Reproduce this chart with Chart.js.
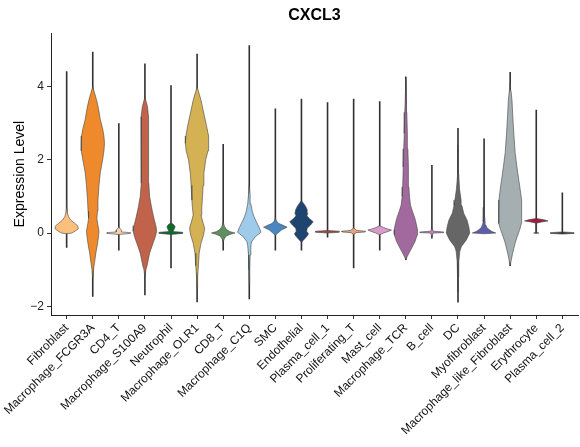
<!DOCTYPE html>
<html>
<head>
<meta charset="utf-8">
<script src="https://cdn.jsdelivr.net/npm/chart.js@4"></script>
<style>html,body{margin:0;padding:0;background:#fff}</style>
</head>
<body>
<canvas id="vln" width="580" height="447"></canvas>
<script>
const categories = ['Fibroblast', 'Macrophage_FCGR3A', 'CD4_T', 'Macrophage_S100A9', 'Neutrophil',
  'Macrophage_OLR1', 'CD8_T', 'Macrophage_C1Q', 'SMC', 'Endothelial', 'Plasma_cell_1',
  'Proliferating_T', 'Mast_cell', 'Macrophage_TCR', 'B_cell', 'DC', 'Myofibroblast',
  'Macrophage_like_Fibroblast', 'Erythrocyte', 'Plasma_cell_2'];
const fillColors = ['#fdbf7c', '#ef8a2c', '#f5cfb3', '#c0634a', '#0e6a2b',
  '#d4b152', '#5f8f60', '#9fcbea', '#4b86c0', '#1f446f', '#9b4a3c',
  '#e8a47c', '#d89bca', '#a2699e', '#c47fba', '#666666', '#5a5ea8',
  '#a5aeb0', '#a01c3c', '#333333'];
// range of the expression values (drawn as the vertical point strip)
const pointMin = [-0.40, -1.74, -0.48, -1.70, -0.96, -1.89, -0.48, -1.81, -0.48, -0.48,
  -0.12, -0.96, -0.48, -0.74, -0.15, -1.90, 0.0, -0.90, 0.0, 0.0];
const pointMax = [4.42, 4.95, 3.00, 4.63, 4.04, 4.90, 2.43, 5.13, 3.40, 3.67,
  3.57, 3.67, 3.60, 4.28, 1.86, 2.87, 2.58, 4.40, 3.37, 1.11];
// violin profiles: [expression level, half width], bottom to top
const profiles = [
  [[-0.02,0],[0.0,0.2],[0.05,0.32],[0.12,0.45],[0.2,0.42],[0.27,0.3],[0.35,0.16],[0.45,0.07],[0.55,0.03],[0.7,0.01],[0.9,0]],
  [[-1.25,0],[-1.0,0.03],[-0.8,0.07],[-0.55,0.12],[-0.3,0.18],[-0.1,0.22],[0.05,0.24],[0.25,0.19],[0.4,0.16],[0.6,0.18],[0.9,0.2],[1.3,0.24],[1.65,0.29],[2.0,0.38],[2.25,0.43],[2.45,0.45],[2.65,0.43],[2.85,0.38],[3.1,0.29],[3.4,0.22],[3.63,0.15],[3.85,0.06],[4.0,0]],
  [[-0.04,0],[-0.01,0.45],[0.01,0.45],[0.03,0.1],[0.08,0.1],[0.16,0]],
  [[-1.2,0],[-1.0,0.04],[-0.9,0.08],[-0.55,0.18],[-0.28,0.31],[-0.1,0.4],[0.05,0.45],[0.2,0.42],[0.36,0.36],[0.55,0.3],[0.72,0.25],[1.0,0.18],[1.36,0.15],[1.8,0.14],[2.26,0.13],[2.7,0.14],[3.17,0.15],[3.45,0.1],[3.72,0]],
  [[-0.04,0],[-0.01,0.45],[0.02,0.45],[0.04,0.08],[0.1,0.12],[0.17,0.16],[0.23,0.1],[0.28,0]],
  [[-1.5,0],[-1.2,0.02],[-0.9,0.05],[-0.55,0.08],[-0.28,0.15],[-0.05,0.25],[0.13,0.29],[0.3,0.22],[0.49,0.15],[0.7,0.18],[0.9,0.2],[1.3,0.23],[1.63,0.26],[2.0,0.33],[2.25,0.42],[2.45,0.45],[2.65,0.43],[2.9,0.37],[3.36,0.23],[3.63,0.15],[3.85,0.06],[4.0,0]],
  [[-0.24,0],[-0.15,0.05],[-0.08,0.12],[-0.03,0.3],[0,0.45],[0.04,0.25],[0.1,0.12],[0.18,0.05],[0.3,0]],
  [[-1.4,0],[-1.0,0.015],[-0.6,0.03],[-0.35,0.06],[-0.24,0.09],[-0.1,0.23],[0.02,0.45],[0.15,0.38],[0.31,0.27],[0.45,0.18],[0.58,0.12],[0.8,0.06],[1.05,0.03],[1.3,0]],
  [[-0.06,0],[0,0.1],[0.08,0.23],[0.16,0.45],[0.21,0.3],[0.26,0.13],[0.32,0.05],[0.4,0]],
  [[-0.25,0],[-0.16,0.12],[-0.08,0.22],[-0.02,0.27],[0.05,0.2],[0.13,0.22],[0.22,0.35],[0.31,0.45],[0.4,0.3],[0.47,0.21],[0.54,0.25],[0.64,0.22],[0.74,0.15],[0.82,0.07],[0.88,0]],
  [[0.0,0],[0.02,0.45],[0.05,0.45],[0.07,0]],
  [[-0.04,0],[0.01,0.1],[0.03,0.45],[0.05,0.45],[0.07,0.12],[0.14,0]],
  [[-0.05,0],[0.0,0.15],[0.05,0.35],[0.08,0.45],[0.11,0.3],[0.15,0.15],[0.2,0]],
  [[-0.74,0],[-0.65,0.05],[-0.55,0.12],[-0.46,0.19],[-0.24,0.35],[-0.05,0.44],[0.08,0.45],[0.25,0.4],[0.4,0.35],[0.6,0.25],[0.76,0.18],[1.0,0.14],[1.26,0.12],[1.81,0.1],[2.3,0.08],[2.72,0.06],[3.3,0.04],[3.9,0.02],[4.2,0]],
  [[-0.08,0],[0.0,0.06],[0.01,0.45],[0.03,0.45],[0.05,0.06],[0.12,0]],
  [[-1.6,0],[-1.2,0.015],[-0.8,0.03],[-0.5,0.07],[-0.37,0.13],[-0.19,0.32],[0.0,0.45],[0.15,0.42],[0.35,0.35],[0.54,0.22],[0.75,0.15],[0.9,0.12],[1.2,0.06],[1.6,0.03],[2.0,0.015],[2.4,0]],
  [[-0.02,0],[0.0,0.45],[0.04,0.3],[0.1,0.18],[0.16,0.1],[0.22,0.07],[0.3,0.04],[0.45,0.025],[0.7,0.01],[0.9,0]],
  [[-0.9,0],[-0.75,0.04],[-0.6,0.08],[-0.42,0.14],[-0.25,0.2],[-0.1,0.27],[0.1,0.37],[0.26,0.43],[0.5,0.45],[0.7,0.44],[0.9,0.43],[1.26,0.37],[1.5,0.32],[1.81,0.26],[2.2,0.19],[2.72,0.14],[3.2,0.1],[3.63,0.07],[3.9,0.03],[4.1,0]],
  [[-0.01,0],[0.0,0.1],[0.015,0.005],[0.27,0.005],[0.3,0.2],[0.33,0.45],[0.36,0.3],[0.4,0]],
  [[-0.03,0],[-0.01,0.45],[0.01,0.45],[0.03,0]]
];
const yTicks = [-2, 0, 2, 4];

Chart.defaults.font.family = "'Liberation Sans', Arial, Helvetica, sans-serif";

// closed outline: right side going up, left side coming down
function outline(i) {
  const prof = profiles[i];
  const right = prof.map(p => ({x: i + p[1], y: p[0]}));
  const left = prof.slice().reverse().map(p => ({x: i - p[1], y: p[0]}));
  return right.concat(left);
}

const datasets = [];
categories.forEach((name, i) => {
  datasets.push({
    label: name,
    data: outline(i),
    showLine: true,
    fill: 'shape',
    backgroundColor: fillColors[i],
    borderColor: '#444',
    borderWidth: 0.6,
    pointRadius: 0,
    order: 1
  });
  datasets.push({
    label: name + ' points',
    data: [{x: i, y: pointMin[i]}, {x: i, y: pointMax[i]}],
    showLine: true,
    fill: false,
    borderColor: '#303030',
    borderWidth: 1.6,
    pointRadius: 0,
    order: 2
  });
});

new Chart(document.getElementById('vln').getContext('2d'), {
  type: 'scatter',
  data: { datasets: datasets },
  options: {
    responsive: false,
    animation: false,
    layout: { padding: { left: 0, right: 2, top: 0, bottom: 0 } },
    plugins: {
      legend: { display: false },
      tooltip: { enabled: false },
      title: {
        display: true,
        fullSize: false,
        text: 'CXCL3',
        color: '#000',
        font: { size: 16, weight: 'bold' },
        padding: { top: 6, bottom: 8 }
      }
    },
    scales: {
      x: {
        type: 'linear',
        min: -0.6,
        max: 19.6,
        afterBuildTicks: s => { s.ticks = categories.map((c, i) => ({ value: i })); },
        afterFit: s => { s.height = 132; },
        ticks: {
          callback: (v, idx) => categories[idx],
          autoSkip: false,
          minRotation: 45,
          maxRotation: 45,
          color: '#111',
          padding: 2,
          font: { size: 12 }
        },
        grid: { drawOnChartArea: false, drawTicks: true, tickLength: 4, color: '#333' },
        border: { display: true, color: '#222', width: 1 }
      },
      y: {
        type: 'linear',
        min: -2.24,
        max: 5.46,
        afterBuildTicks: s => { s.ticks = yTicks.map(v => ({ value: v })); },
        afterFit: s => { s.width = 51; },
        ticks: {
          callback: v => (v < 0 ? '\u2212' + Math.abs(v) : String(v)),
          color: '#222',
          padding: 3,
          font: { size: 12 }
        },
        title: {
          display: true,
          text: 'Expression Level',
          color: '#000',
          font: { size: 14 },
          padding: { top: 12, bottom: 0 }
        },
        grid: { drawOnChartArea: false, drawTicks: true, tickLength: 4, color: '#333' },
        border: { display: true, color: '#222', width: 1 }
      }
    }
  }
});
</script>
</body>
</html>
